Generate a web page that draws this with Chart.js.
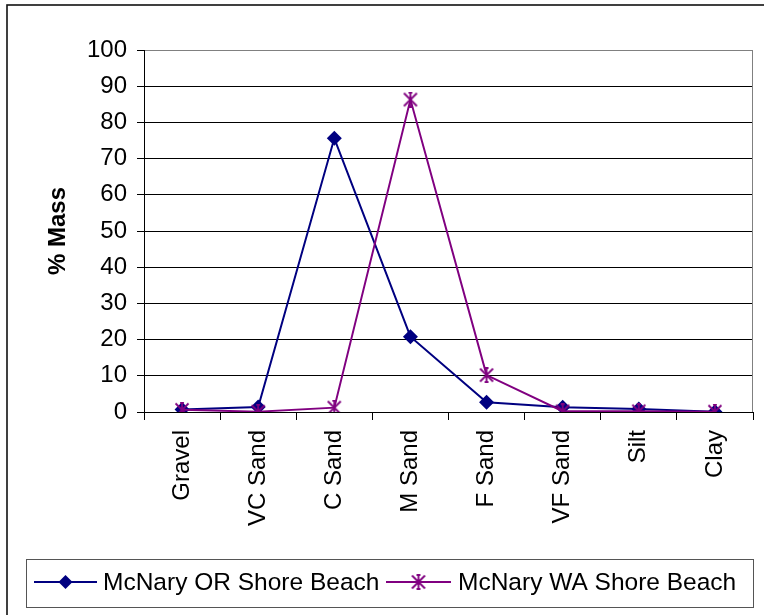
<!DOCTYPE html>
<html>
<head>
<meta charset="utf-8">
<script src="https://cdn.jsdelivr.net/npm/chart.js@4.4.0/dist/chart.umd.min.js"></script>
<style>
  html, body { margin: 0; padding: 0; background: #fff; }
  #c { display: block; }
</style>
</head>
<body>
<canvas id="c" width="764" height="615"></canvas>
<script>
// Grain-size classes along the x axis
const categories = ['Gravel', 'VC Sand', 'C Sand', 'M Sand', 'F Sand', 'VF Sand', 'Silt', 'Clay'];
// Percent of sample mass in each class
const orShoreValues = [0.7, 1.4, 75.6, 20.8, 2.7, 1.3, 0.8, 0.1];
const waShoreValues = [0.6, 0.1, 1.2, 86.3, 10.2, 0.2, 0.2, 0.1];
const seriesNames = ['McNary OR Shore Beach', 'McNary WA Shore Beach'];
const yTickValues = [0, 10, 20, 30, 40, 50, 60, 70, 80, 90, 100];

const FONT = '"Liberation Sans", Arial, Helvetica, sans-serif';
const NAVY = '#000080';
const PURPLE = '#800080';

// Asterisk-style marker (X with a short-capped vertical bar)
function makeStar(color, s) {
  const c = document.createElement('canvas');
  c.width = s; c.height = s;
  const g = c.getContext('2d');
  g.strokeStyle = color;
  g.lineWidth = 1.8;
  const p = 1.5, q = s - 1.5, m = s / 2;
  g.beginPath();
  g.moveTo(p, p); g.lineTo(q, q);
  g.moveTo(q, p); g.lineTo(p, q);
  g.moveTo(m, 0.5); g.lineTo(m, s - 0.5);
  g.moveTo(s * 0.38, 1); g.lineTo(s * 0.62, 1);
  g.moveTo(s * 0.38, s - 1); g.lineTo(s * 0.62, s - 1);
  g.stroke();
  return c;
}
const starMarker = makeStar(PURPLE, 16);

function drawDiamond(ctx, x, y, r, color) {
  ctx.beginPath();
  ctx.moveTo(x - r, y);
  ctx.lineTo(x, y - r);
  ctx.lineTo(x + r, y);
  ctx.lineTo(x, y + r);
  ctx.closePath();
  ctx.fillStyle = color;
  ctx.fill();
}

// Outer frame, right edge of the plot area and the boxed legend
const decorations = {
  id: 'decorations',
  afterDraw(chart) {
    const ctx = chart.ctx;
    const a = chart.chartArea;
    ctx.save();
    // plot area right border
    ctx.strokeStyle = '#808080';
    ctx.lineWidth = 1;
    ctx.beginPath();
    ctx.moveTo(Math.round(a.right) - 0.5, a.top);
    ctx.lineTo(Math.round(a.right) - 0.5, a.bottom);
    ctx.stroke();

    // outer chart frame (runs off the right and bottom edges)
    ctx.strokeStyle = '#111';
    ctx.lineWidth = 1.6;
    ctx.strokeRect(7, 5, 900, 800);

    // legend box
    const bx = 26.5, by = 559.5, bw = 727, bh = 48;
    ctx.strokeStyle = '#555';
    ctx.lineWidth = 1;
    ctx.strokeRect(bx, by, bw, bh);
    const ly = 582;
    const items = [
      { x0: 34, x1: 97, text: 103, color: NAVY, marker: 'diamond', name: seriesNames[0] },
      { x0: 386, x1: 451, text: 458, color: PURPLE, marker: 'star', name: seriesNames[1] }
    ];
    items.forEach(it => {
      ctx.strokeStyle = it.color;
      ctx.lineWidth = 2;
      ctx.beginPath();
      ctx.moveTo(it.x0, ly);
      ctx.lineTo(it.x1, ly);
      ctx.stroke();
      const mx = (it.x0 + it.x1) / 2;
      if (it.marker === 'diamond') {
        drawDiamond(ctx, mx, ly, 7, it.color);
      } else {
        ctx.drawImage(starMarker, mx - 8, ly - 8);
      }
      ctx.fillStyle = '#000';
      ctx.font = '24.5px ' + FONT;
      ctx.textBaseline = 'middle';
      ctx.textAlign = 'left';
      ctx.fillText(it.name, it.text, ly + 1);
    });
    ctx.restore();
  }
};

new Chart(document.getElementById('c'), {
  type: 'line',
  data: {
    labels: categories,
    datasets: [
      {
        label: seriesNames[0],
        data: orShoreValues,
        borderColor: NAVY,
        backgroundColor: NAVY,
        borderWidth: 2,
        pointStyle: 'rectRot',
        pointRadius: 7.5,
        pointBorderWidth: 0,
        pointBackgroundColor: NAVY,
        tension: 0,
        order: 1
      },
      {
        label: seriesNames[1],
        data: waShoreValues,
        borderColor: PURPLE,
        backgroundColor: PURPLE,
        borderWidth: 2,
        pointStyle: starMarker,
        pointRadius: 8,
        tension: 0,
        order: 0
      }
    ]
  },
  options: {
    responsive: false,
    animation: false,
    devicePixelRatio: 1,
    layout: { padding: { top: 50, right: 11, left: 0, bottom: 0 } },
    plugins: {
      legend: { display: false },
      tooltip: { enabled: false }
    },
    scales: {
      x: {
        type: 'category',
        offset: true,
        grid: {
          offset: true,
          drawOnChartArea: false,
          drawTicks: true,
          tickLength: 8,
          tickColor: '#000',
          color: '#000'
        },
        border: { color: '#000', width: 1 },
        ticks: {
          autoSkip: false,
          minRotation: 90,
          maxRotation: 90,
          padding: 10,
          color: '#000',
          font: { size: 24, family: FONT }
        },
        afterFit(s) { s.height = 203; }
      },
      y: {
        min: 0,
        max: 100,
        afterBuildTicks(s) { s.ticks = yTickValues.map(v => ({ value: v })); },
        grid: {
          color: c => (c.tick && c.tick.value === 100) ? '#808080' : '#000',
          tickColor: '#000',
          lineWidth: 1,
          tickLength: 7,
          drawTicks: true
        },
        border: { color: '#000', width: 1 },
        ticks: {
          padding: 10,
          color: '#000',
          font: { size: 24, family: FONT }
        },
        title: {
          display: true,
          text: '% Mass',
          color: '#000',
          font: { size: 24, weight: 'bold', family: FONT },
          padding: { top: 44, bottom: 0 }
        },
        afterFit(s) { s.width = 144; }
      }
    }
  },
  plugins: [decorations]
});
</script>
</body>
</html>
